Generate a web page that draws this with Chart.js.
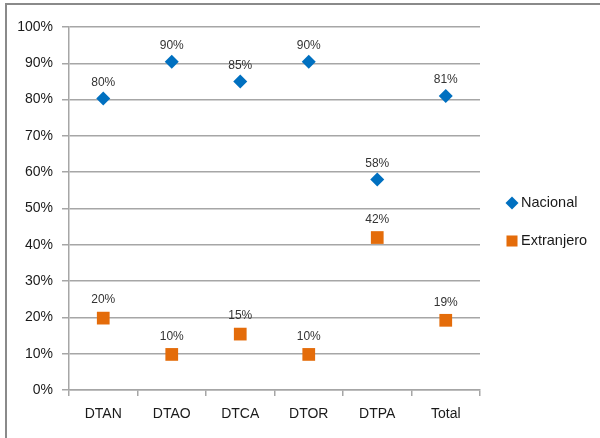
<!DOCTYPE html>
<html>
<head>
<meta charset="utf-8">
<script src="https://cdn.jsdelivr.net/npm/chart.js@4"></script>
<style>
  html, body { margin: 0; padding: 0; background: #fff; }
  #wrap { width: 600px; height: 438px; position: relative; }
</style>
</head>
<body>
<div id="wrap"><canvas id="c" width="600" height="438"></canvas></div>
<script>
const categories = ['DTAN', 'DTAO', 'DTCA', 'DTOR', 'DTPA', 'Total'];
const nacional = [80.3, 90.4, 85.0, 90.4, 58.0, 81.0];
const extranjero = [19.8, 9.8, 15.4, 9.8, 42.0, 19.2];
const seriesNames = ['Nacional', 'Extranjero'];
const yTicks = [0, 10, 20, 30, 40, 50, 60, 70, 80, 90, 100];

const FONT = "'Liberation Sans', Arial, sans-serif";
const BLUE = '#0070C0';
const ORANGE = '#E46C0A';
const GRID = '#a6a6a6';

const framePlugin = {
  id: 'frame',
  beforeDraw(chart) {
    const ctx = chart.ctx;
    ctx.save();
    ctx.fillStyle = '#ffffff';
    ctx.fillRect(0, 0, chart.width, chart.height);
    ctx.strokeStyle = '#8a8a8a';
    ctx.lineWidth = 2;
    ctx.beginPath();
    ctx.moveTo(6, 438);
    ctx.lineTo(6, 4);
    ctx.lineTo(600, 4);
    ctx.stroke();
    ctx.restore();
  }
};

const labelPlugin = {
  id: 'pointLabels',
  afterDatasetsDraw(chart) {
    const ctx = chart.ctx;
    ctx.save();
    ctx.font = '12px ' + FONT;
    ctx.fillStyle = '#333333';
    ctx.textAlign = 'center';
    ctx.textBaseline = 'middle';
    chart.data.datasets.forEach((ds, di) => {
      const meta = chart.getDatasetMeta(di);
      const off = di === 0 ? 16 : 18;
      meta.data.forEach((pt, i) => {
        ctx.fillText(Math.round(ds.data[i]) + '%', pt.x, pt.y - off);
      });
    });
    ctx.restore();
  }
};

const legendPlugin = {
  id: 'customLegend',
  afterDraw(chart) {
    const ctx = chart.ctx;
    const ys = [203, 241];
    ctx.save();
    chart.data.datasets.forEach((ds, di) => {
      ctx.fillStyle = ds.pointBackgroundColor;
      ctx.strokeStyle = ds.pointBackgroundColor;
      ctx.lineWidth = 0;
      Chart.helpers.drawPoint(ctx, {
        pointStyle: ds.pointStyle,
        radius: di === 0 ? 6.5 : 7.8,
        rotation: 0,
        borderWidth: 0
      }, 512, ys[di]);
      ctx.fillStyle = '#1a1a1a';
      ctx.font = '14.5px ' + FONT;
      ctx.textAlign = 'left';
      ctx.textBaseline = 'middle';
      ctx.fillText(ds.label, 521, ys[di]);
    });
    ctx.restore();
  }
};

new Chart(document.getElementById('c'), {
  type: 'line',
  data: {
    labels: categories,
    datasets: [
      {
        label: seriesNames[0],
        data: nacional,
        showLine: false,
        pointStyle: 'rectRot',
        pointRadius: 7,
        pointHoverRadius: 7,
        pointBackgroundColor: BLUE,
        pointBorderColor: BLUE,
        pointBorderWidth: 0,
        borderColor: BLUE,
        backgroundColor: BLUE
      },
      {
        label: seriesNames[1],
        data: extranjero,
        showLine: false,
        pointStyle: 'rect',
        pointRadius: 9,
        pointHoverRadius: 9,
        pointBackgroundColor: ORANGE,
        pointBorderColor: ORANGE,
        pointBorderWidth: 0,
        borderColor: ORANGE,
        backgroundColor: ORANGE
      }
    ]
  },
  options: {
    responsive: false,
    animation: false,
    events: [],
    layout: { padding: { left: 0, top: 27, right: 120, bottom: 0 } },
    plugins: {
      legend: { display: false },
      tooltip: { enabled: false },
      title: { display: false }
    },
    scales: {
      x: {
        offset: true,
        afterFit(scale) { scale.height = 48; },
        grid: {
          offset: true,
          drawOnChartArea: false,
          drawTicks: true,
          tickLength: 6,
          color: GRID,
          lineWidth: 1.5
        },
        border: { display: true, color: GRID, width: 1.5 },
        ticks: {
          padding: 10,
          color: '#1a1a1a',
          font: { family: FONT, size: 14 }
        }
      },
      y: {
        min: 0,
        max: 100,
        afterFit(scale) { scale.width = 69; },
        afterBuildTicks(scale) { scale.ticks = yTicks.map(v => ({ value: v })); },
        grid: {
          drawOnChartArea: true,
          drawTicks: true,
          tickLength: 7,
          color: GRID,
          lineWidth: 1.5
        },
        border: { display: true, color: GRID, width: 1.5 },
        ticks: {
          padding: 9,
          color: '#1a1a1a',
          font: { family: FONT, size: 14 },
          callback: v => v + '%'
        }
      }
    }
  },
  plugins: [framePlugin, labelPlugin, legendPlugin]
});
</script>
</body>
</html>
